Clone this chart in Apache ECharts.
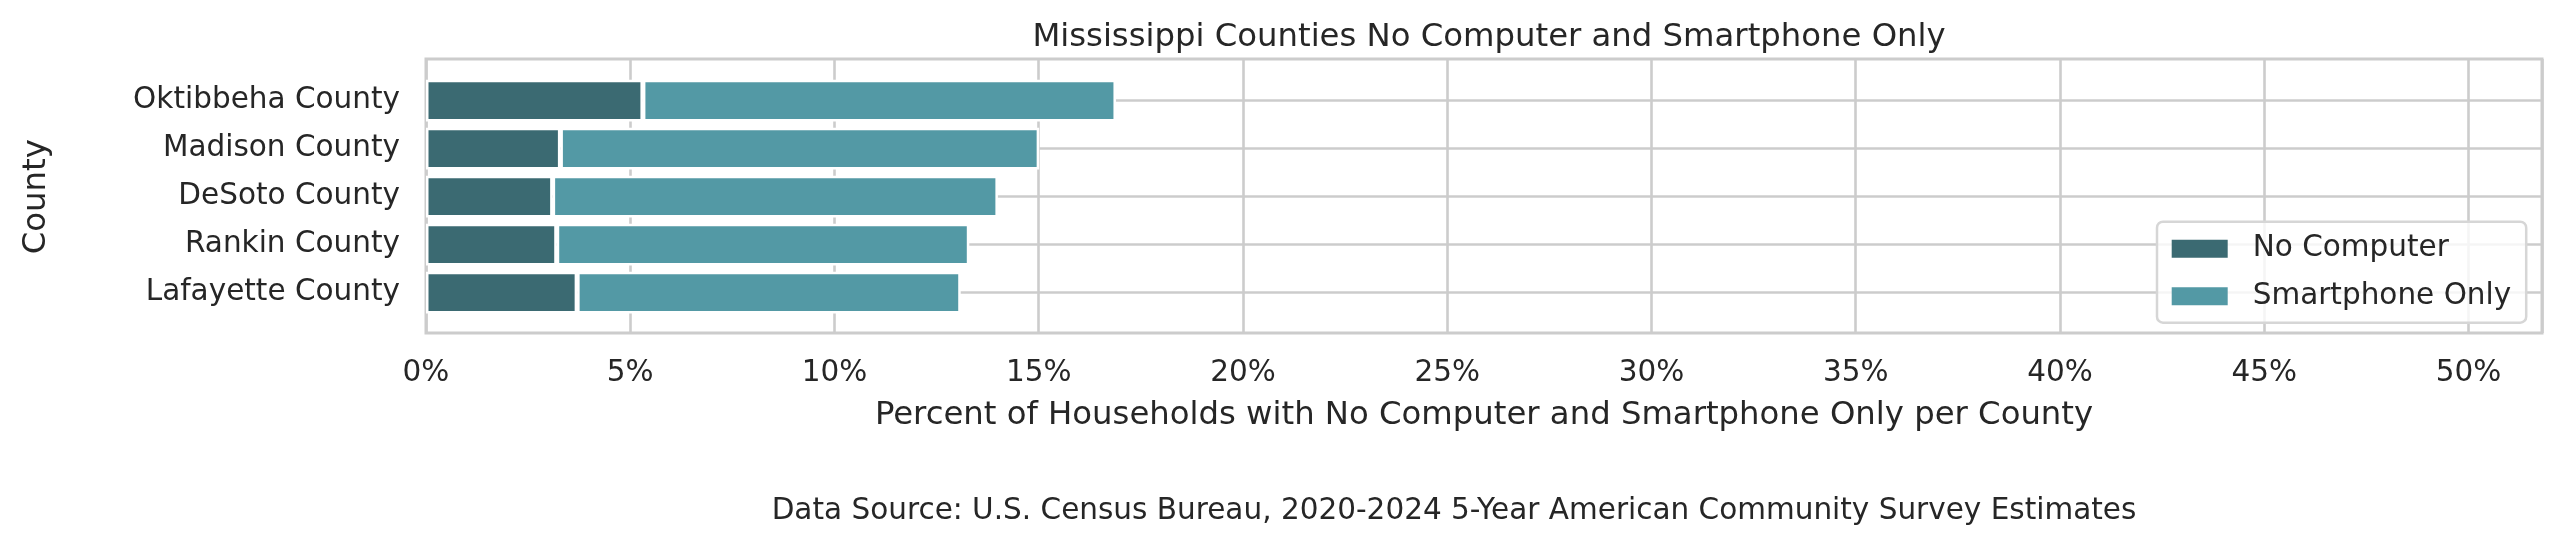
<!DOCTYPE html>
<html>
<head>
<meta charset="utf-8">
<script src="https://cdn.jsdelivr.net/npm/echarts@6/dist/echarts.min.js"></script>
<style>
  html, body { margin: 0; padding: 0; background: #ffffff; }
  #chart { width: 2560px; height: 541px; }
</style>
</head>
<body>
<div id="chart"></div>
<script>
const counties = ['Oktibbeha County', 'Madison County', 'DeSoto County', 'Rankin County', 'Lafayette County'];
const noComputer = [5.31, 3.29, 3.10, 3.20, 3.70];
const smartphoneOnly = [11.58, 11.72, 10.90, 10.10, 9.39];
const xTickStep = 5;
const xMax = 51.8;

const FONT = 'DejaVu Sans';
const TXT = '#262626';
const GRIDC = '#cccccc';

const chart = echarts.init(document.getElementById('chart'), null, { renderer: 'canvas' });

const option = {
  backgroundColor: '#ffffff',
  animation: false,
  textStyle: { fontFamily: FONT, color: TXT },
  title: [
    {
      text: 'Mississippi Counties No Computer and Smartphone Only',
      left: 1484, top: 16.5, textAlign: 'center',
      textStyle: { fontFamily: FONT, fontSize: 32.3, fontWeight: 'normal', color: TXT, lineHeight: 32 }
    },
    {
      text: 'Data Source: U.S. Census Bureau, 2020-2024 5-Year American Community Survey Estimates',
      left: 1449, top: 491, textAlign: 'center',
      textStyle: { fontFamily: FONT, fontSize: 29.5, fontWeight: 'normal', color: TXT, lineHeight: 30 }
    }
  ],
  legend: {
    data: ['No Computer', 'Smartphone Only'],
    orient: 'vertical',
    left: 2157, top: 221.7,
    padding: [10.5, 15, 10, 14.7],
    itemWidth: 56, itemHeight: 18, itemGap: 14.5,
    icon: 'rect',
    backgroundColor: 'rgba(255,255,255,0.8)',
    borderColor: '#d6d6d6', borderWidth: 2.5, borderRadius: 6,
    textStyle: { fontFamily: FONT, fontSize: 29.5, color: TXT, lineHeight: 30, padding: [3, 0, 0, 20] },
    itemStyle: { borderWidth: 0 }
  },
  grid: [
    { left: 426, right: 18, top: 100.7, height: 192, show: false, containLabel: false },
    { left: 426, right: 18, top: 59, height: 274, show: true, borderColor: GRIDC, borderWidth: 3, backgroundColor: 'transparent', containLabel: false }
  ],
  xAxis: [
    { type: 'value', gridIndex: 0, min: 0, max: xMax, show: false },
    {
      type: 'value', gridIndex: 1, min: 0, max: xMax, interval: xTickStep,
      axisLine: { show: false }, axisTick: { show: false },
      splitLine: { show: true, lineStyle: { color: GRIDC, width: 2.6 } },
      axisLabel: {
        margin: 25, fontFamily: FONT, fontSize: 29.5, color: TXT, lineHeight: 30,
        formatter: v => (Math.abs(v % xTickStep) < 1e-9 ? v + '%' : '')
      },
      name: 'Percent of Households with No Computer and Smartphone Only per County',
      nameLocation: 'middle', nameGap: 67,
      nameTextStyle: { fontFamily: FONT, fontSize: 32.3, color: TXT, lineHeight: 32 }
    }
  ],
  yAxis: [
    {
      type: 'category', gridIndex: 0, data: counties, inverse: true, boundaryGap: false,
      axisLine: { show: false }, axisTick: { show: false },
      splitLine: { show: true, lineStyle: { color: GRIDC, width: 2.6 } },
      axisLabel: { margin: 26, fontFamily: FONT, fontSize: 29.5, color: TXT, lineHeight: 30, padding: [10, 0, 0, 0] },
      name: 'County', nameLocation: 'middle', nameGap: 373, nameRotate: 90,
      nameTextStyle: { fontFamily: FONT, fontSize: 32.3, color: TXT, lineHeight: 32 }
    },
    { type: 'value', gridIndex: 1, min: 0, max: 1, show: false }
  ],
  series: [
    {
      name: 'No Computer', type: 'bar', stack: 'total', xAxisIndex: 0, yAxisIndex: 0,
      data: noComputer, barWidth: 41.8, clip: false, z: 3,
      itemStyle: { color: '#3b6a72', borderColor: '#ffffff', borderWidth: 2.5 }
    },
    {
      name: 'Smartphone Only', type: 'bar', stack: 'total', xAxisIndex: 0, yAxisIndex: 0,
      data: smartphoneOnly, barWidth: 41.8, clip: false, z: 3,
      itemStyle: { color: '#5399a5', borderColor: '#ffffff', borderWidth: 2.5 }
    }
  ]
};

chart.setOption(option);
</script>
</body>
</html>
